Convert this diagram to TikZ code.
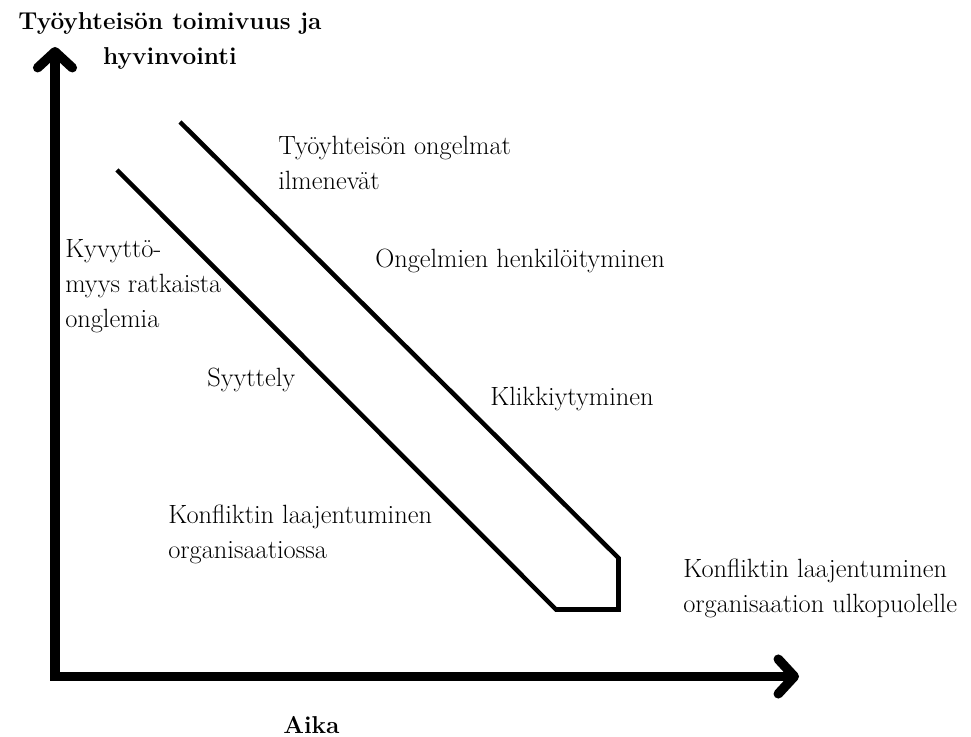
\documentclass[tikz,border=0pt]{standalone}
\usepackage{fontspec}
\usetikzlibrary{arrows.meta}
\begin{document}
\begin{tikzpicture}[x=0.75pt,y=-0.75pt,
  lbl/.style={anchor=base west,inner sep=0pt,align=left,font=\fontsize{19.8}{26.25}\selectfont},
  ttl/.style={inner sep=0pt,align=center,font=\fontsize{18.3}{26.25}\selectfont\bfseries},
  axis/.style={line width=7.1pt,line join=miter,
    {Straight Barb[length=12pt,width=26pt,line cap=round,line join=round]}-{Straight Barb[length=12pt,width=26pt,line cap=round,line join=round]}},
  band/.style={line width=3.4pt,line join=miter}]
\useasboundingbox (0,0) rectangle (971,737);
% axes
\coordinate (ytip) at (55,47);
\coordinate (origin) at (55,676.5);
\coordinate (xtip) at (799,676.5);
\draw[axis] (ytip) -- (origin) -- (xtip);
% band
\coordinate (a) at (180,122);
\coordinate (b) at (618.5,558);
\coordinate (c) at (618.5,609.5);
\coordinate (d) at (556,609.5);
\coordinate (e) at (117,170);
\draw[band] (a) -- (b) -- (c) -- (d) -- (e);
% titles (base = last line)
\node[ttl,anchor=base] (ytitle) at (170,65) {Työyhteisön toimivuus ja\\hyvinvointi};
\node[ttl,anchor=base west] (xtitle) at (283,733) {Aika};
% labels (base = last line)
\node[lbl] (t1) at (278,190) {Työyhteisön ongelmat\\ilmenevät};
\node[lbl] (t2) at (375,268) {Ongelmien henkilöityminen};
\node[lbl] (t3) at (65,328) {Kyvyttö-\\myys ratkaista\\onglemia};
\node[lbl] (t4) at (207,387) {Syyttely};
\node[lbl] (t5) at (490,406) {Klikkiytyminen};
\node[lbl] (t6) at (168,558) {Konfliktin laajentuminen\\organisaatiossa};
\node[lbl] (t7) at (683,612) {Konfliktin laajentuminen\\organisaation ulkopuolelle};
\end{tikzpicture}
\end{document}
